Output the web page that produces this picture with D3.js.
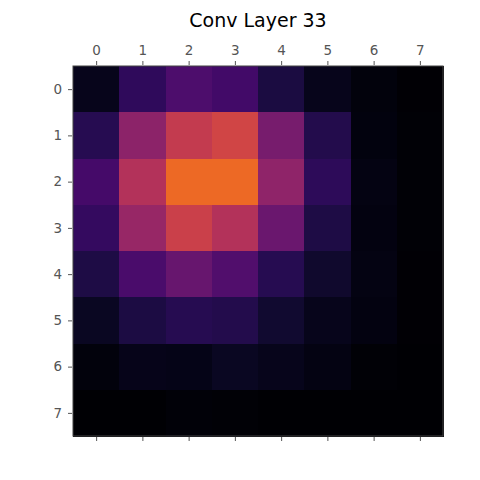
<!DOCTYPE html>
<html>
<head>
<meta charset="utf-8">
<script src="https://cdn.jsdelivr.net/npm/d3@7"></script>
<style>
  body { margin: 0; background: #fff; }
  text { font-family: "DejaVu Sans", sans-serif; }
</style>
</head>
<body>
<svg id="chart" width="480" height="480"></svg>
<script>
// Activation values (as colormap fractions), row by row
var rows = [0, 1, 2, 3, 4, 5, 6, 7];
var cols = [0, 1, 2, 3, 4, 5, 6, 7];
var row0 = [0.05, 0.16, 0.23, 0.20, 0.11, 0.05, 0.02, 0.005];
var row1 = [0.14, 0.38, 0.52, 0.56, 0.33, 0.13, 0.025, 0.01];
var row2 = [0.21, 0.48, 0.665, 0.665, 0.39, 0.155, 0.035, 0.01];
var row3 = [0.17, 0.41, 0.54, 0.48, 0.30, 0.12, 0.03, 0.01];
var row4 = [0.12, 0.22, 0.29, 0.235, 0.14, 0.08, 0.035, 0.005];
var row5 = [0.06, 0.115, 0.14, 0.13, 0.085, 0.05, 0.03, 0.005];
var row6 = [0.02, 0.045, 0.04, 0.06, 0.05, 0.035, 0.008, 0];
var row7 = [0, 0.002, 0.015, 0.01, 0.003, 0, 0, 0];
var grid = [row0, row1, row2, row3, row4, row5, row6, row7];

var svg = d3.select("#chart");
var plotLeft = 73, plotTop = 66, plotSize = 370;

// Scales
var x = d3.scaleLinear().domain([-0.5, 7.5]).range([plotLeft, plotLeft + plotSize]);
var y = d3.scaleLinear().domain([-0.5, 7.5]).range([plotTop, plotTop + plotSize]);
var color = d3.scaleSequential(d3.interpolateInferno).domain([0, 1]);

// Flatten into cells
var cells = [];
grid.forEach(function (r, i) {
  r.forEach(function (v, j) { cells.push({row: rows[i], col: cols[j], value: v}); });
});

svg.append("g").selectAll("rect")
  .data(cells)
  .enter().append("rect")
  .attr("x", function (d) { return x(d.col - 0.5); })
  .attr("y", function (d) { return y(d.row - 0.5); })
  .attr("width", x(1) - x(0) + 0.5)
  .attr("height", y(1) - y(0) + 0.5)
  .attr("fill", function (d) { return color(d.value); })
  .attr("shape-rendering", "crispEdges");

// Frame
svg.append("rect")
  .attr("x", plotLeft).attr("y", plotTop)
  .attr("width", plotSize).attr("height", plotSize)
  .attr("fill", "none")
  .attr("stroke", "#444")
  .attr("stroke-width", 1);

// Axes
function style(g) {
  g.select(".domain").remove();
  g.selectAll(".tick line").attr("stroke", "#555");
  g.selectAll(".tick text").attr("fill", "#555").style("font-size", "13.5px")
    .style("font-family", "DejaVu Sans, sans-serif");
}

svg.append("g")
  .attr("transform", "translate(0," + (plotTop - 1) + ")")
  .call(d3.axisTop(x).tickValues(cols).tickSize(4).tickPadding(6))
  .call(style);

svg.append("g")
  .attr("transform", "translate(0," + (plotTop + plotSize + 1) + ")")
  .call(d3.axisBottom(x).tickValues(cols).tickSize(4).tickFormat(""))
  .call(style);

svg.append("g")
  .attr("transform", "translate(" + (plotLeft - 1) + ",0)")
  .call(d3.axisLeft(y).tickValues(rows).tickSize(4).tickPadding(6))
  .call(style);

// Title
svg.append("text")
  .attr("x", plotLeft + plotSize / 2)
  .attr("y", 27)
  .attr("text-anchor", "middle")
  .style("font-size", "19px")
  .attr("fill", "#000")
  .text("Conv Layer 33");
</script>
</body>
</html>
